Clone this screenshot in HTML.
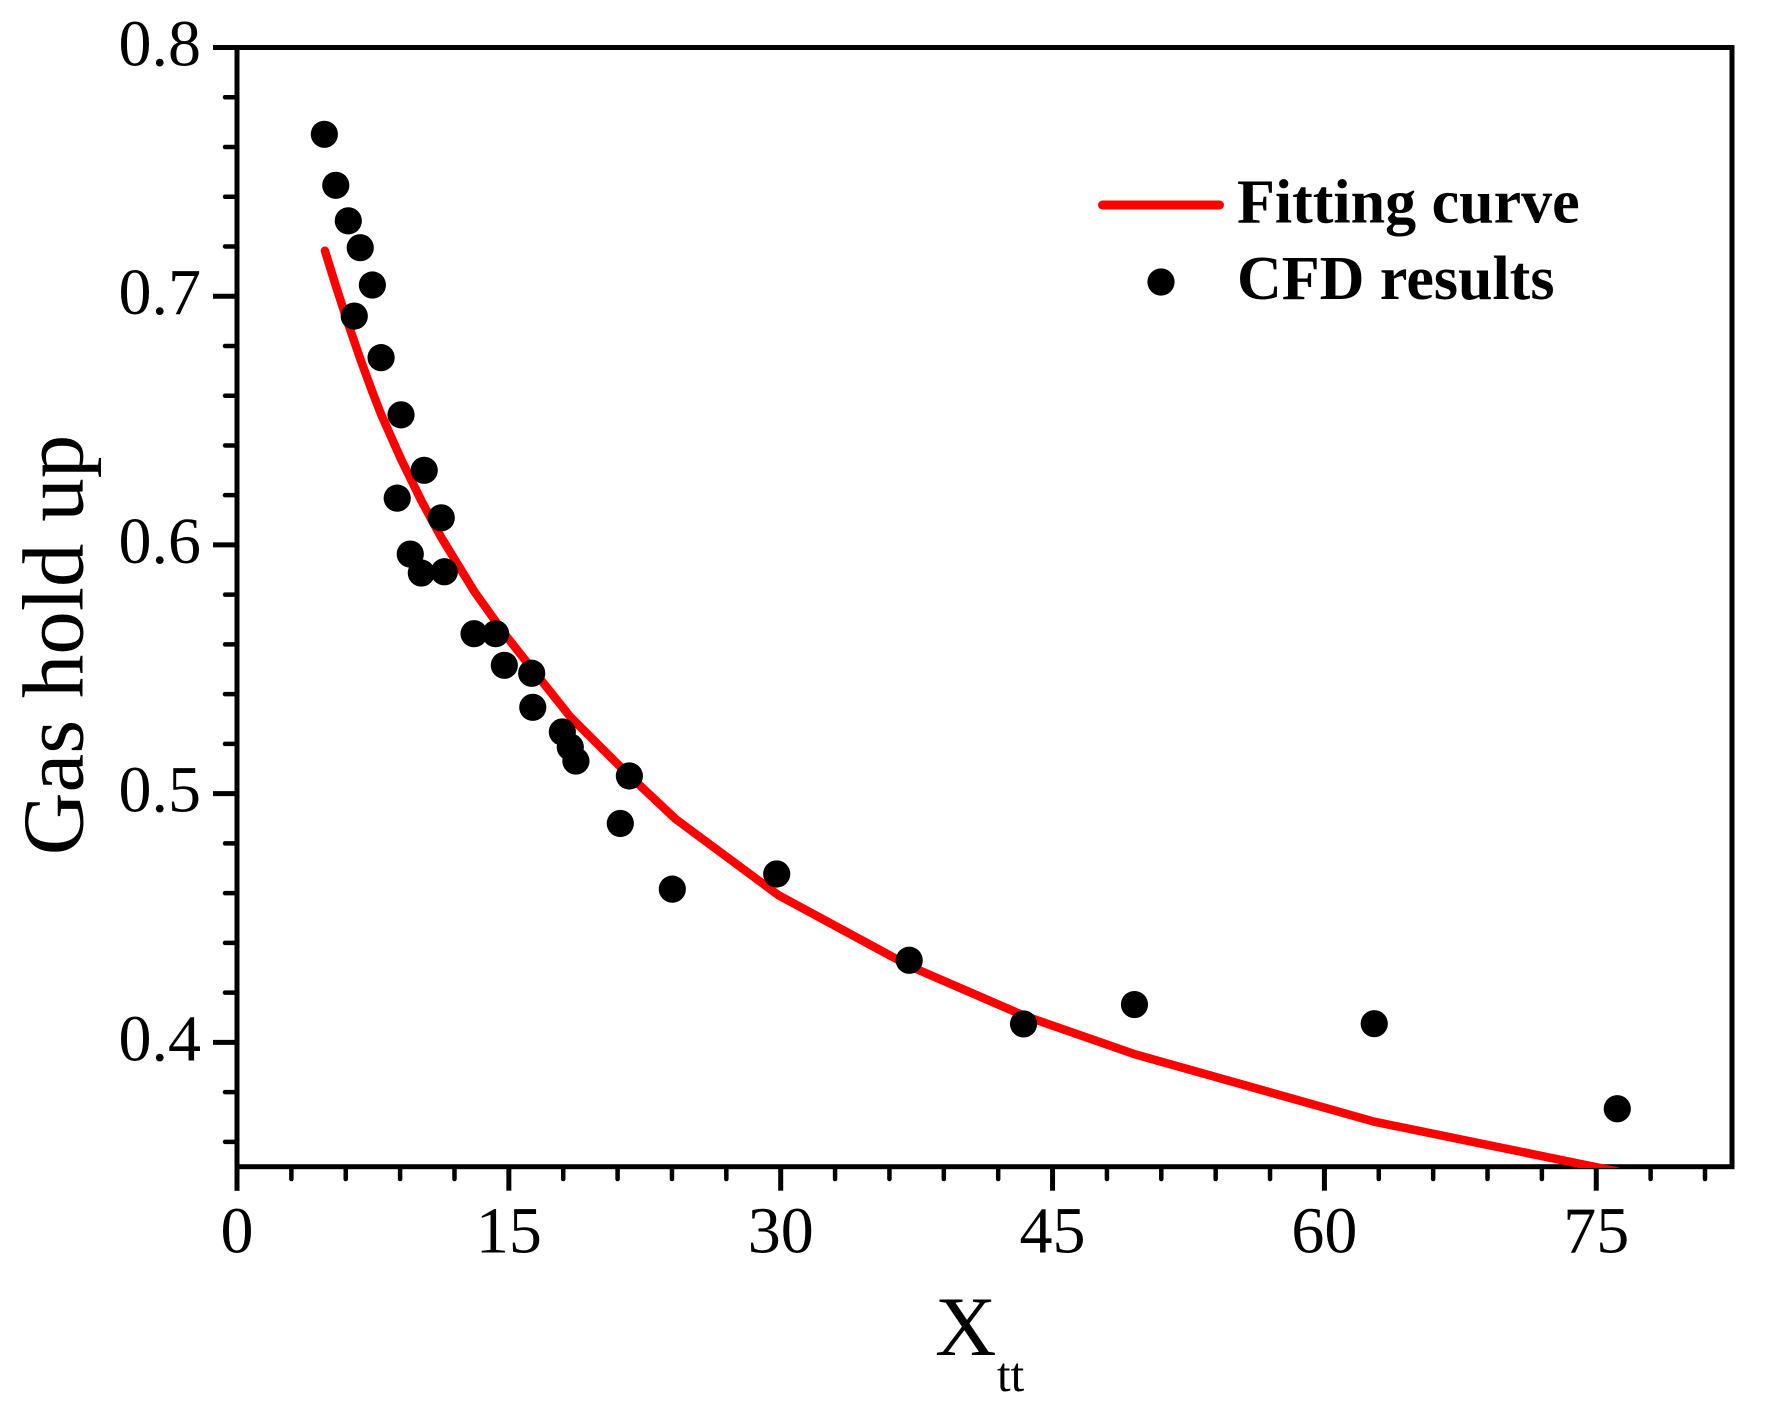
<!DOCTYPE html>
<html lang="en">
<head>
<meta charset="utf-8">
<title>Gas hold up vs Xtt</title>
<style>
html,body{margin:0;padding:0;background:#fff;width:1765px;height:1421px;overflow:hidden}
svg{display:block;position:absolute;left:0;top:0}
text{font-family:"Liberation Serif","Times New Roman",serif;fill:#000}
</style>
</head>
<body>
<svg id="chart" xmlns="http://www.w3.org/2000/svg" width="1765" height="1421" viewBox="0 0 1765 1421">
<rect x="0" y="0" width="1765" height="1421" fill="#fff"/>
<defs><clipPath id="plot-clip"><rect x="237" y="47" width="1495" height="1121"/></clipPath></defs>
<g id="axes"></g>
<g id="fit" clip-path="url(#plot-clip)"></g>
<g id="dots"></g>
<text transform="translate(82.5,645) rotate(-90)" text-anchor="middle" font-size="87">Gas hold up</text>
<text x="935" y="1355" font-size="85">X</text>
<text x="997" y="1391" font-size="49">tt</text>
<g>
<line x1="1102.5" y1="205" x2="1219.5" y2="205" stroke="#f00" stroke-width="9" stroke-linecap="round"/>
<text x="1237" y="222.5" font-size="62" font-weight="bold">Fitting curve</text>
<circle cx="1161" cy="282" r="13.6" fill="#000"/>
<text x="1237" y="299" font-size="62" font-weight="bold">CFD results</text>
</g>
</svg>
<script>
const cfdX = [4.82,5.45,6.14,6.80,7.47,6.47,7.95,9.05,10.33,8.84,11.27,9.56,10.17,11.44,13.08,14.27,14.75,16.26,16.32,17.95,18.39,18.70,21.65,21.15,24.02,29.78,37.09,43.40,49.52,62.75,76.16];
const cfdY = [0.7651,0.7446,0.7303,0.7195,0.7045,0.6920,0.6753,0.6523,0.6300,0.6188,0.6109,0.5963,0.5887,0.5892,0.5643,0.5643,0.5516,0.5484,0.5347,0.5248,0.5187,0.5131,0.5071,0.4880,0.4616,0.4677,0.4330,0.4074,0.4152,0.4075,0.3733];
const fitX = [4.85,5.45,6.14,6.8,7.47,7.95,9.05,10.17,11.27,13.1,14.8,16.3,18.4,21.4,24.2,29.87,37.1,43.4,49.5,62.75,76.14];
const fitY = [0.7183,0.7042,0.6888,0.6748,0.6615,0.6525,0.6345,0.6178,0.6030,0.5812,0.5639,0.5500,0.5308,0.5090,0.4898,0.4592,0.4307,0.4108,0.3953,0.3681,0.3481];
const xMajorTicks = [0,15,30,45,60,75];
const xMajorLabels = ["0","15","30","45","60","75"];
const xMinorTicks = [3,6,9,12,18,21,24,27,33,36,39,42,48,51,54,57,63,66,69,72,78,81];
const yMajorTicks = [0.8,0.7,0.6,0.5,0.4];
const yMajorLabels = ["0.8","0.7","0.6","0.5","0.4"];
const yMinorTicks = [0.78,0.76,0.74,0.72,0.68,0.66,0.64,0.62,0.58,0.56,0.54,0.52,0.48,0.46,0.44,0.42,0.38,0.36];

const NS = 'http://www.w3.org/2000/svg';
const plotLeft = 237, plotRight = 1732, plotTop = 47.5, plotBottom = 1166.7;
const xMin = 0, xMax = 82.49, yMin = 0.35, yMax = 0.8;
function sx(v){ return plotLeft + (v - xMin) / (xMax - xMin) * (plotRight - plotLeft); }
function sy(v){ return plotTop + (yMax - v) / (yMax - yMin) * (plotBottom - plotTop); }
function make(tag, props){
  const el = document.createElementNS(NS, tag);
  for (const k in props) el.setAttribute(k, props[k]);
  return el;
}
const axes = document.getElementById('axes');
const frame = make('rect', {x:plotLeft, y:plotTop, width:plotRight-plotLeft, height:plotBottom-plotTop, fill:'none', stroke:'#000', 'stroke-width':5});


axes.appendChild(frame);

xMajorTicks.forEach(function(v, i){
  const t = make('line', {x1:sx(v), y1:plotBottom, x2:sx(v), y2:1190.7, stroke:'#000', 'stroke-width':5});
  
  
  axes.appendChild(t);
  const l = make('text', {x:sx(v), y:1252.5, 'text-anchor':'middle', 'font-size':66});
  l.textContent = xMajorLabels[i];
  
  
  axes.appendChild(l);
});
xMinorTicks.forEach(function(v){
  const t = make('line', {x1:sx(v), y1:plotBottom, x2:sx(v), y2:1179, stroke:'#000', 'stroke-width':4.5, 'stroke-linecap':'round'});
  
  
  axes.appendChild(t);
});
yMajorTicks.forEach(function(v, i){
  const t = make('line', {x1:213, y1:sy(v), x2:plotLeft, y2:sy(v), stroke:'#000', 'stroke-width':5});
  
  
  axes.appendChild(t);
  const l = make('text', {x:201, y:sy(v)+18, 'text-anchor':'end', 'font-size':66});
  l.textContent = yMajorLabels[i];
  
  
  axes.appendChild(l);
});
yMinorTicks.forEach(function(v){
  const t = make('line', {x1:225, y1:sy(v), x2:plotLeft, y2:sy(v), stroke:'#000', 'stroke-width':4.5, 'stroke-linecap':'round'});
  
  
  axes.appendChild(t);
});
const xStem = make('line', {x1:plotLeft, y1:plotBottom, x2:plotLeft, y2:1190.7, stroke:'#000', 'stroke-width':5});


axes.appendChild(xStem);

const fitLine = make('polyline', {
  points: fitX.map(function(x, i){ return sx(x).toFixed(2) + ',' + sy(fitY[i]).toFixed(2); }).join(' '),
  fill:'none', stroke:'#f00', 'stroke-width':8.5, 'stroke-linecap':'round', 'stroke-linejoin':'round'
});


document.getElementById('fit').appendChild(fitLine);

const dots = document.getElementById('dots');
cfdX.forEach(function(x, i){
  const c = make('circle', {cx:sx(x).toFixed(2), cy:sy(cfdY[i]).toFixed(2), r:13.6, fill:'#000'});
  
  
  dots.appendChild(c);
});
</script>
</body>
</html>
